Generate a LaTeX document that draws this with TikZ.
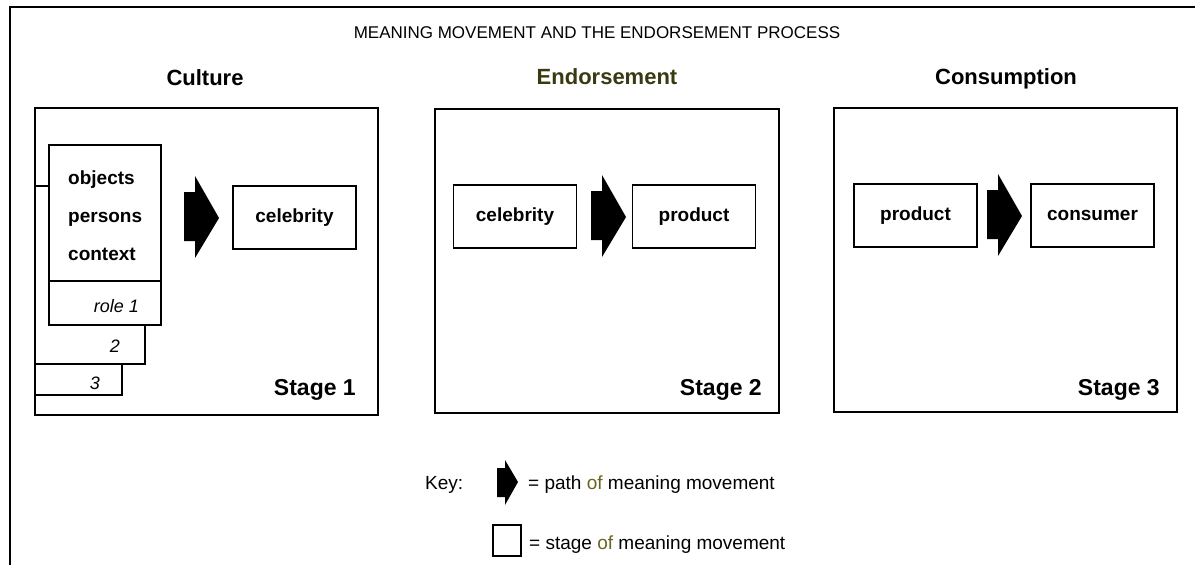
\documentclass[tikz,border=0pt]{standalone}
\usepackage{fontspec}
\setmainfont{Liberation Sans}
\definecolor{olivehead}{RGB}{58,58,18}
\definecolor{oliveword}{RGB}{105,100,30}
\begin{document}
\begin{tikzpicture}[x=1pt,y=-1pt,
  frame/.style={line width=2pt},
  stagebox/.style={draw, line width=1.8pt},
  itembox/.style={draw, line width=1.4pt, fill=white, inner sep=0pt,
    minimum width=123pt, minimum height=63pt,
    font=\fontsize{19}{19}\selectfont\bfseries, text height=14pt, text depth=4pt},
  rolebox/.style={draw, line width=1.4pt, fill=white},
  heading/.style={anchor=base, inner sep=0pt, font=\fontsize{22}{22}\selectfont\bfseries},
  stagelabel/.style={anchor=base east, inner sep=0pt, font=\fontsize{23}{23}\selectfont\bfseries},
  listword/.style={anchor=base west, inner sep=0pt, font=\fontsize{19}{19}\selectfont\bfseries},
  roleword/.style={anchor=base east, inner sep=0pt, font=\fontsize{18}{18}\selectfont\itshape},
  keytext/.style={anchor=base west, inner sep=0pt, font=\fontsize{19}{19}\selectfont},
  pics/meaningarrow/.style={code={
    \fill (0,-26) -- (11,-26) -- (11,-42) -- (35,0) -- (11,40) -- (11,23) -- (0,23) -- cycle;}}
]
\useasboundingbox (0,0) rectangle (1195,565);

% page frame: top rule and left rule
\coordinate (frameTL) at (10,7);
\coordinate (frameTR) at (1195,7);
\coordinate (frameBL) at (10,565);
\draw[frame] (frameTR) -- (frameTL) -- (frameBL);

% title and column headings
\node[anchor=base, inner sep=0pt, font=\fontsize{17}{17}\selectfont] (title) at (597,38)
  {MEANING MOVEMENT AND THE ENDORSEMENT PROCESS};
\node[heading] (hCulture) at (205,85) {Culture};
\node[heading, text=olivehead] (hEndorse) at (607,84) {Endorsement};
\node[heading] (hConsume) at (1006,84) {Consumption};

% ---------------- Stage 1 ----------------
\draw[stagebox] (35,108) rectangle (378,415);
% stacked role cards
\draw[rolebox] (35,230) rectangle (122,395);
\draw[rolebox] (35,186) rectangle (145,364);
\draw[rolebox] (49,145) rectangle (161,281);
\draw[rolebox] (49,281) rectangle (161,325);
\node[listword] (objects) at (68,184) {objects};
\node[listword] (persons) at (68,222) {persons};
\node[listword] (context) at (68,260) {context};
\node[roleword] (role1) at (139,312) {role 1};
\node[roleword] (role2) at (120,352) {2};
\node[roleword] (role3) at (100,389) {3};
\pic at (184,218) {meaningarrow};
\node[itembox] (celeb1) at (294.5,217.5) {celebrity};
\node[stagelabel] (stage1) at (356,395) {Stage 1};

% ---------------- Stage 2 ----------------
\draw[stagebox] (435,109) rectangle (779,413);
\node[itembox] (celeb2) at (515,216.5) {celebrity};
\pic at (591,217) {meaningarrow};
\node[itembox] (product2) at (694,216.5) {product};
\node[stagelabel] (stage2) at (762,395) {Stage 2};

% ---------------- Stage 3 ----------------
\draw[stagebox] (834,108) rectangle (1177,412);
\node[itembox] (product3) at (915.5,215.5) {product};
\pic at (987,216) {meaningarrow};
\node[itembox] (consumer3) at (1092.5,215.5) {consumer};
\node[stagelabel] (stage3) at (1160,395) {Stage 3};

% ---------------- Key ----------------
\node[keytext] (key) at (425,489) {Key:};
\fill (497,468) -- (505,468) -- (505,460) -- (518,482) -- (505,505) -- (505,497) -- (497,497) -- cycle;
\node[keytext] (keypath) at (528,489) {= path {\color{oliveword}of} meaning movement};
\draw[line width=1.6pt] (493,525) rectangle (521,556);
\node[keytext] (keystage) at (529,549) {= stage {\color{oliveword}of} meaning movement};
\end{tikzpicture}
\end{document}
